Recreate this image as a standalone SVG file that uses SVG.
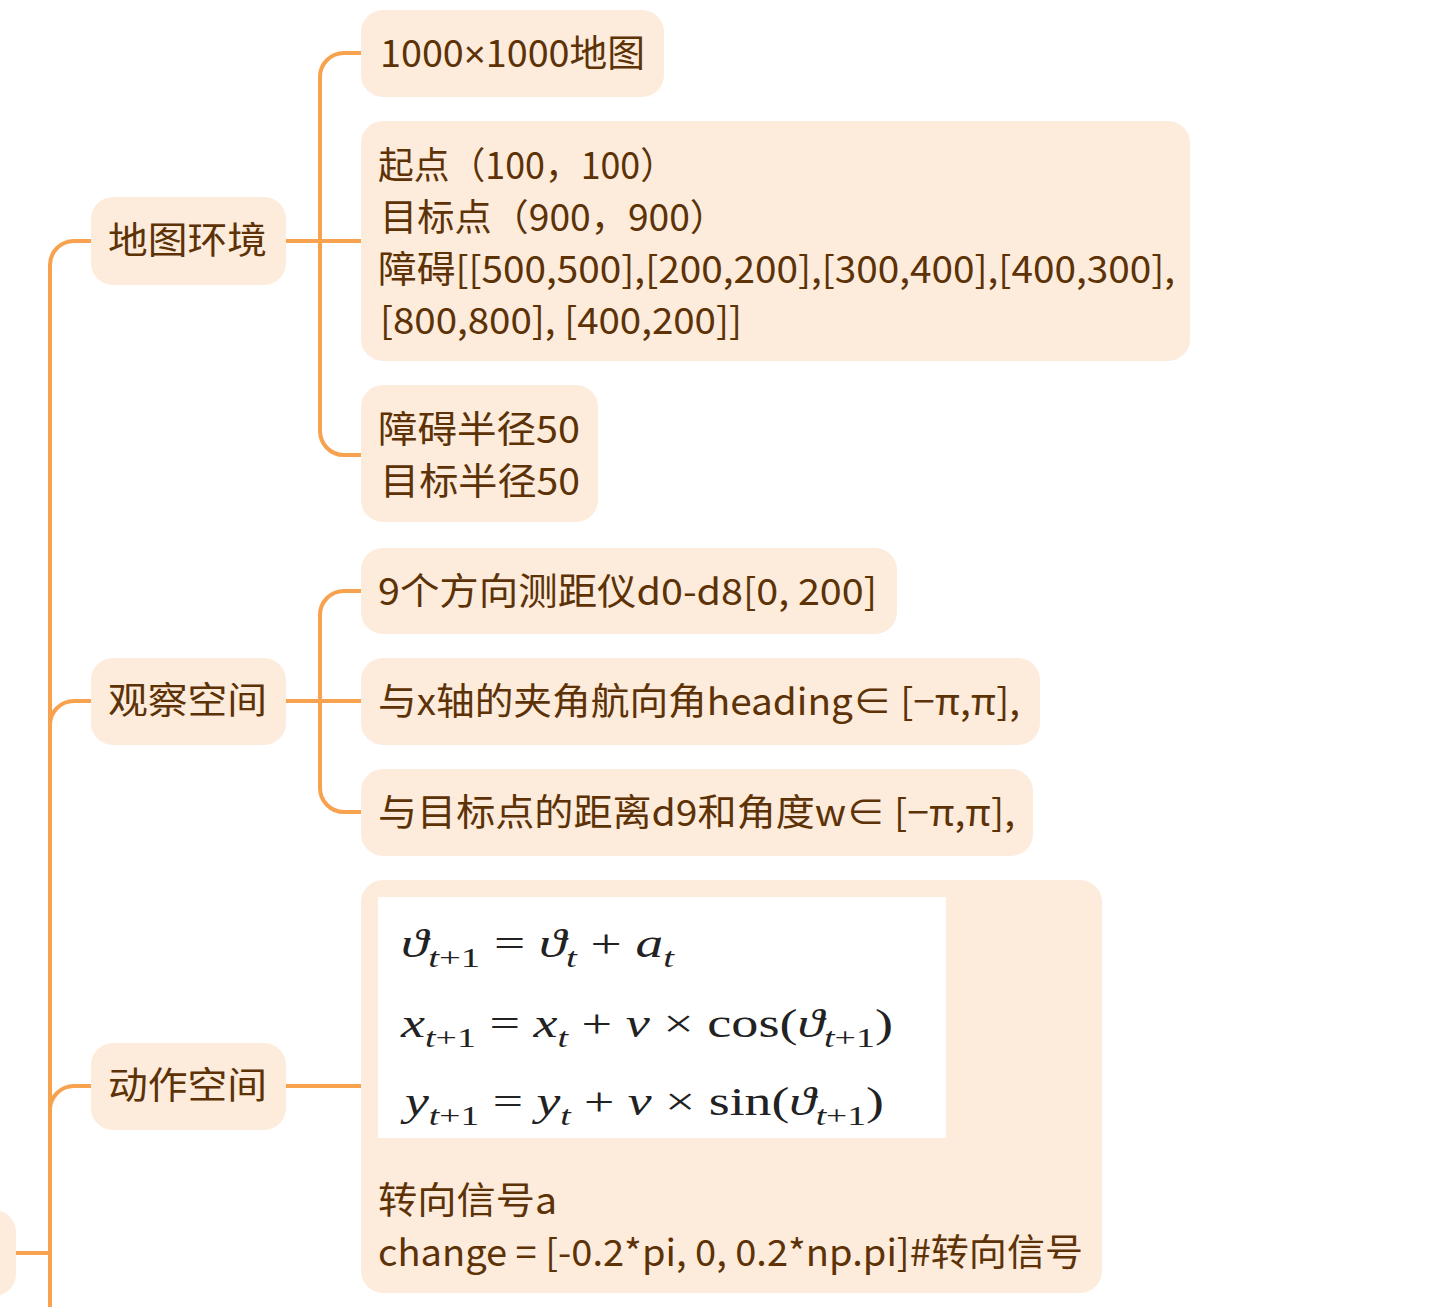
<svg xmlns="http://www.w3.org/2000/svg" width="1446" height="1307" viewBox="0 0 1446 1307">
<style>
.node{fill:#fdebdc;}
.t{font-family:"Noto Sans CJK SC","Noto Sans",sans-serif;font-size:37px;fill:#5c3206;}
.l{font-family:"Liberation Sans","Noto Sans",sans-serif;}
.c{fill:none;stroke:#f7a24f;stroke-width:4;}
.m{font-family:"Liberation Serif","DejaVu Serif",serif;font-size:40px;fill:#222;}
.i{font-style:italic;}
.s{font-size:28px;}
</style>
<rect width="1446" height="1307" fill="#ffffff"/>
<g id="connectors">
<path class="c" d="M50,1307 V265 A24,24 0 0 1 74,241 H91"/>
<path class="c" d="M50,1253 V725 A24,24 0 0 1 74,701 H91"/>
<path class="c" d="M50,1253 V1110 A24,24 0 0 1 74,1086 H91"/>
<path class="c" d="M16,1253 H50"/>
<path class="c" d="M286,241 H361"/>
<path class="c" d="M361,53 H344 A24,24 0 0 0 320,77 V431 A24,24 0 0 0 344,455 H361"/>
<path class="c" d="M286,701 H361"/>
<path class="c" d="M361,591 H344 A24,24 0 0 0 320,615 V788 A24,24 0 0 0 344,812 H361"/>
<path class="c" d="M286,1086 H361"/>
</g>
<g id="root">
<rect class="node" x="-40" y="1210" width="56" height="86" rx="22"/>
</g>
<g id="n-map">
<rect class="node" x="91" y="197" width="195" height="88" rx="22"/>
<text class="t" x="108" y="254" textLength="159" lengthAdjust="spacingAndGlyphs">地图环境</text>
</g>
<g id="n-obs">
<rect class="node" x="91" y="658" width="195" height="87" rx="22"/>
<text class="t" x="108" y="714" textLength="159" lengthAdjust="spacingAndGlyphs">观察空间</text>
</g>
<g id="n-act">
<rect class="node" x="91" y="1043" width="195" height="87" rx="22"/>
<text class="t" x="108" y="1099" textLength="159" lengthAdjust="spacingAndGlyphs">动作空间</text>
</g>
<g id="n-size">
<rect class="node" x="361" y="10" width="303" height="87" rx="22"/>
<text class="t" x="380" y="67" textLength="265" lengthAdjust="spacingAndGlyphs">1000<tspan class="l">×</tspan>1000地图</text>
</g>
<g id="n-points">
<rect class="node" x="361" y="121" width="829" height="240" rx="22"/>
<text class="t" x="378" y="179" textLength="298" lengthAdjust="spacingAndGlyphs">起点（100，100）</text>
<text class="t" x="380" y="231" textLength="347" lengthAdjust="spacingAndGlyphs">目标点（900，900）</text>
<text class="t" x="378" y="283" textLength="797" lengthAdjust="spacingAndGlyphs">障碍[[500,500],[200,200],[300,400],[400,300],</text>
<text class="t" x="380" y="334" textLength="362" lengthAdjust="spacingAndGlyphs">[800,800], [400,200]]</text>
</g>
<g id="n-radius">
<rect class="node" x="361" y="385" width="237" height="137" rx="22"/>
<text class="t" x="378" y="443" textLength="202" lengthAdjust="spacingAndGlyphs">障碍半径50</text>
<text class="t" x="380" y="495" textLength="200" lengthAdjust="spacingAndGlyphs">目标半径50</text>
</g>
<g id="n-range">
<rect class="node" x="361" y="548" width="536" height="86" rx="22"/>
<text class="t" x="378" y="605" textLength="499" lengthAdjust="spacingAndGlyphs">9个方向测距仪d0-d8[0, 200]</text>
</g>
<g id="n-heading">
<rect class="node" x="361" y="658" width="679" height="87" rx="22"/>
<text class="t" x="378" y="715" textLength="642" lengthAdjust="spacingAndGlyphs">与x轴的夹角航向角heading∈ [−π,π],</text>
</g>
<g id="n-goal">
<rect class="node" x="361" y="769" width="672" height="87" rx="22"/>
<text class="t" x="378" y="826" textLength="637" lengthAdjust="spacingAndGlyphs">与目标点的距离d9和角度w∈ [−π,π],</text>
</g>
<g id="n-action">
<rect class="node" x="361" y="880" width="741" height="413" rx="22"/>
<rect x="378" y="897" width="568" height="241" fill="#ffffff"/>
<text class="m" x="401" y="957" textLength="273" lengthAdjust="spacingAndGlyphs"><tspan class="i">ϑ</tspan><tspan class="s i" dy="10">t</tspan><tspan class="s">+1</tspan><tspan dy="-10"> = </tspan><tspan class="i">ϑ</tspan><tspan class="s i" dy="10">t</tspan><tspan dy="-10"> + </tspan><tspan class="i">a</tspan><tspan class="s i" dy="10">t</tspan></text>
<text class="m" x="401" y="1037" textLength="492" lengthAdjust="spacingAndGlyphs"><tspan class="i">x</tspan><tspan class="s i" dy="10">t</tspan><tspan class="s">+1</tspan><tspan dy="-10"> = </tspan><tspan class="i">x</tspan><tspan class="s i" dy="10">t</tspan><tspan dy="-10"> + </tspan><tspan class="i">v</tspan><tspan> × cos(</tspan><tspan class="i">ϑ</tspan><tspan class="s i" dy="10">t</tspan><tspan class="s">+1</tspan><tspan dy="-10">)</tspan></text>
<text class="m" x="405" y="1115" textLength="479" lengthAdjust="spacingAndGlyphs"><tspan class="i">y</tspan><tspan class="s i" dy="10">t</tspan><tspan class="s">+1</tspan><tspan dy="-10"> = </tspan><tspan class="i">y</tspan><tspan class="s i" dy="10">t</tspan><tspan dy="-10"> + </tspan><tspan class="i">v</tspan><tspan> × sin(</tspan><tspan class="i">ϑ</tspan><tspan class="s i" dy="10">t</tspan><tspan class="s">+1</tspan><tspan dy="-10">)</tspan></text>
<text class="t" x="378" y="1214" textLength="179" lengthAdjust="spacingAndGlyphs">转向信号a</text>
<text class="t" x="378" y="1266" textLength="705" lengthAdjust="spacingAndGlyphs">change = [-0.2*pi, 0, 0.2*np.pi]#转向信号</text>
</g>
</svg>
